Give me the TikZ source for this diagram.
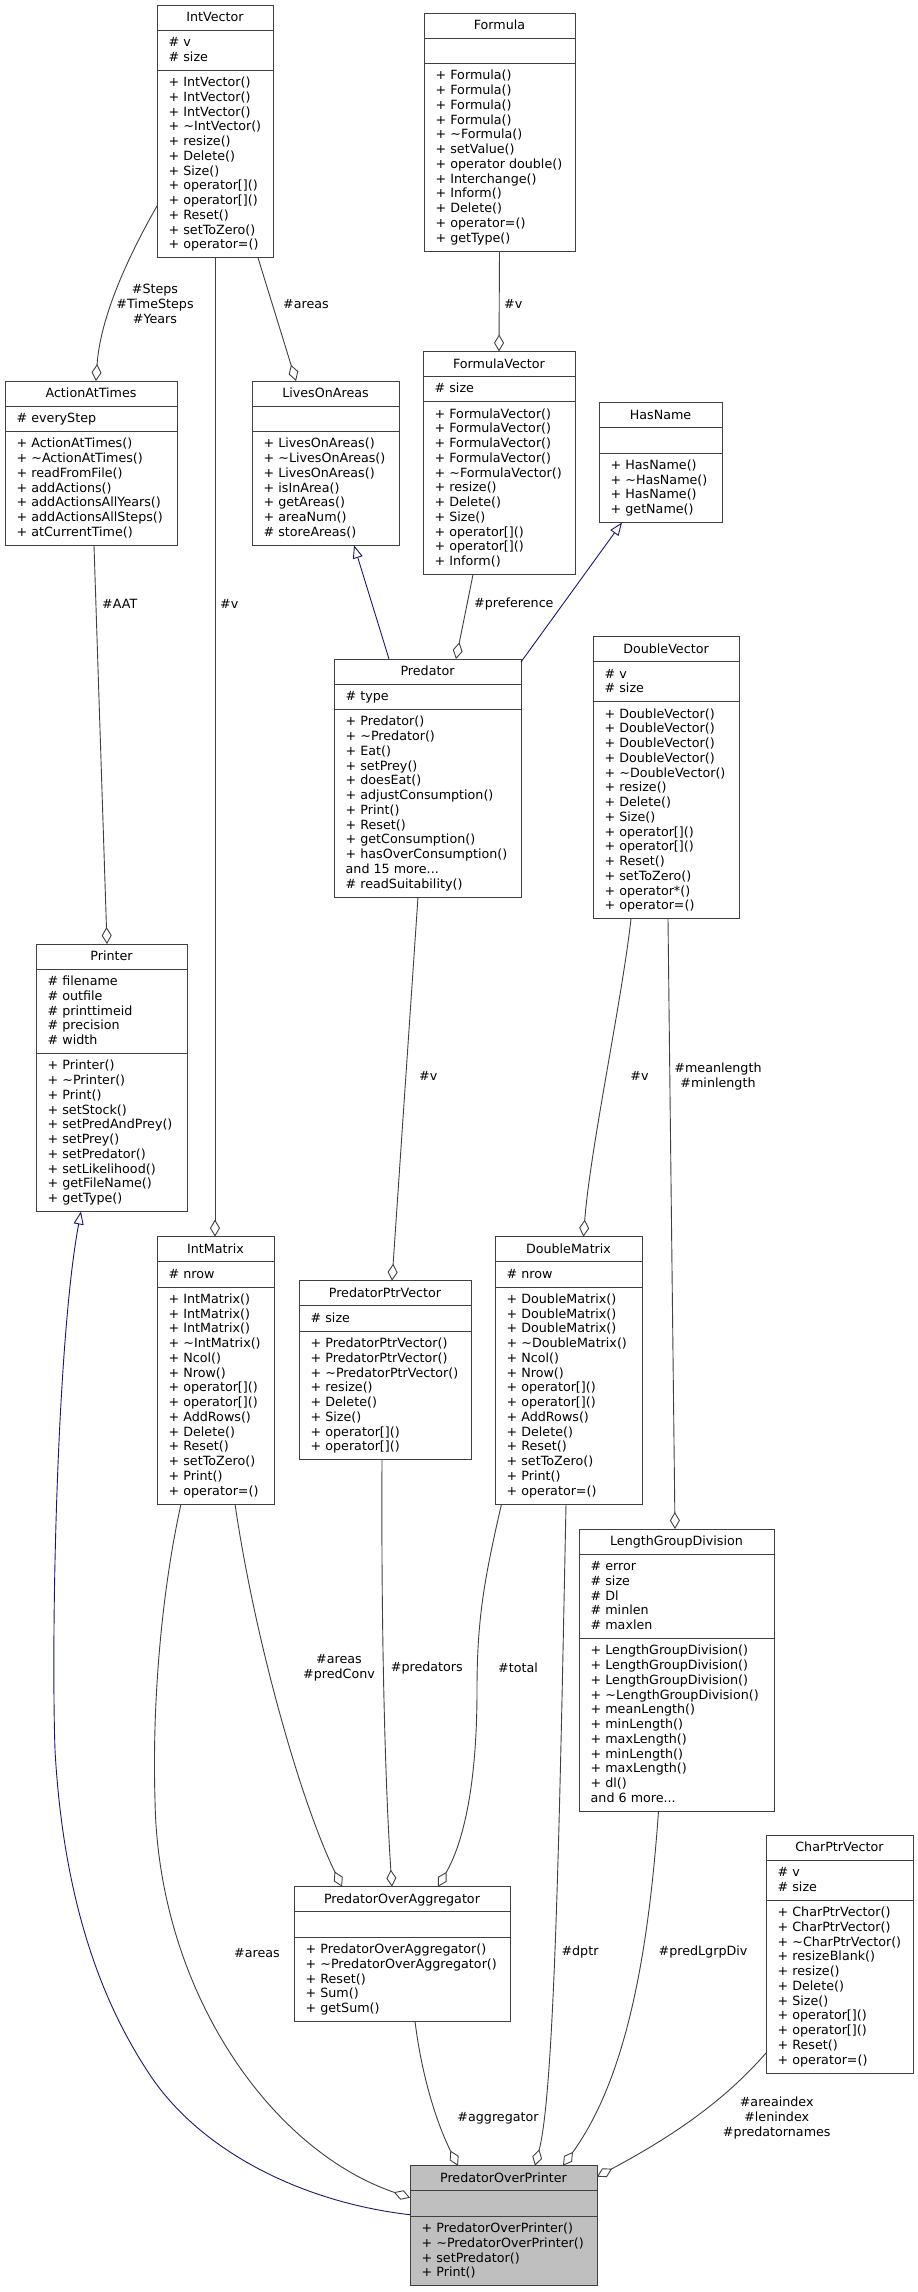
\documentclass[tikz,border=0pt]{standalone}
\usepackage{fontspec}
\setmainfont{DejaVu Sans}
\usetikzlibrary{arrows.meta}
\definecolor{edgegray}{HTML}{404040}
\definecolor{inhblue}{HTML}{191970}
\definecolor{popfill}{HTML}{BFBFBF}
\newcommand\tld{\textasciitilde}
\newcommand\mdots{...}
\tikzset{
  box/.style={draw=edgegray, line width=1pt, inner sep=0pt, outer sep=0pt, rectangle},
  sepline/.style={draw=edgegray, line width=1pt},
  txt/.style={inner sep=0pt, font=\fontsize{12.7pt}{14.75pt}\selectfont, text=black},
  lbl/.style={txt, align=center},
  agg/.style={draw=edgegray, line width=0.9pt, -{Diamond[open, length=17pt, width=10pt, line width=0.9pt]}},
  inh/.style={draw=inhblue, line width=0.9pt, -{Triangle[open, length=13pt, width=10pt, line width=0.9pt]}},
}
% name, x, top, width, nAttr, nMeth, fill, title
\newcommand\classbox[8]{%
  \pgfmathsetmacro\hA{(#5==0) ? 25.25 : (14.75*#5+10.5)}%
  \pgfmathsetmacro\hM{14.75*#6+10.5}%
  \pgfmathsetmacro\hT{25.25+\hA+\hM}%
  \node[box, fill=#7, minimum width=#4pt, minimum height=\hT pt, anchor=north west] (#1) at (#2pt,-#3pt) {};%
  \draw[sepline] ([yshift=-25.25pt]#1.north west) -- ([yshift=-25.25pt]#1.north east);%
  \draw[sepline] ([yshift=-25.25pt-\hA pt]#1.north west) -- ([yshift=-25.25pt-\hA pt]#1.north east);%
  \node[txt, anchor=base] (#1-t) at ([yshift=-16.8pt]#1.north) {#8};%
}
\newcommand\attrs[2]{\foreach \rowtext [count=\rowidx from 0] in {#2}{\node[txt, anchor=base west] (#1-a\rowidx) at ([xshift=11.5pt, yshift=-41.55pt-\rowidx*14.75pt]#1.north west) {\rowtext};}}
\newcommand\meths[2]{\foreach \rowtext [count=\rowidx from 0] in {#2}{\node[txt, anchor=base west] (#1-m\rowidx) at ([xshift=11.5pt, yshift=-41.55pt-\hA pt-\rowidx*14.75pt]#1.north west) {\rowtext};}}

\begin{document}
\begin{tikzpicture}
\fill[white] (0,0) rectangle (918pt,-2292pt);
\useasboundingbox (0,0) rectangle (918pt,-2292pt);

% ---- classes ----
\classbox{IntVector}{157}{5}{116}{2}{12}{white}{IntVector}
\attrs{IntVector}{\# v, \# size}
\meths{IntVector}{+ IntVector(), + IntVector(), + IntVector(), + \tld IntVector(), + resize(), + Delete(), + Size(), + operator[](), + operator[](), + Reset(), + setToZero(), + operator=()}

\classbox{Formula}{424}{13}{151}{0}{12}{white}{Formula}
\meths{Formula}{+ Formula(), + Formula(), + Formula(), + Formula(), + \tld Formula(), + setValue(), + operator double(), + Interchange(), + Inform(), + Delete(), + operator=(), + getType()}

\classbox{ActionAtTimes}{5}{381}{172}{1}{7}{white}{ActionAtTimes}
\attrs{ActionAtTimes}{\# everyStep}
\meths{ActionAtTimes}{+ ActionAtTimes(), + \tld ActionAtTimes(), + readFromFile(), + addActions(), + addActionsAllYears(), + addActionsAllSteps(), + atCurrentTime()}

\classbox{LivesOnAreas}{252}{381}{147}{0}{7}{white}{LivesOnAreas}
\meths{LivesOnAreas}{+ LivesOnAreas(), + \tld LivesOnAreas(), + LivesOnAreas(), + isInArea(), + getAreas(), + areaNum(), \# storeAreas()}

\classbox{FormulaVector}{423}{351.4}{152}{1}{11}{white}{FormulaVector}
\attrs{FormulaVector}{\# size}
\meths{FormulaVector}{+ FormulaVector(), + FormulaVector(), + FormulaVector(), + FormulaVector(), + \tld FormulaVector(), + resize(), + Delete(), + Size(), + operator[](), + operator[](), + Inform()}

\classbox{HasName}{599}{402.5}{123}{0}{4}{white}{HasName}
\meths{HasName}{+ HasName(), + \tld HasName(), + HasName(), + getName()}

\classbox{Predator}{334}{659}{187}{1}{12}{white}{Predator}
\attrs{Predator}{\# type}
\meths{Predator}{+ Predator(), + \tld Predator(), + Eat(), + setPrey(), + doesEat(), + adjustConsumption(), + Print(), + Reset(), + getConsumption(), + hasOverConsumption(), and 15 more\mdots, \# readSuitability()}

\classbox{DoubleVector}{593}{636.5}{146}{2}{14}{white}{DoubleVector}
\attrs{DoubleVector}{\# v, \# size}
\meths{DoubleVector}{+ DoubleVector(), + DoubleVector(), + DoubleVector(), + DoubleVector(), + \tld DoubleVector(), + resize(), + Delete(), + Size(), + operator[](), + operator[](), + Reset(), + setToZero(), + operator*(), + operator=()}

\classbox{Printer}{36}{944}{151}{5}{10}{white}{Printer}
\attrs{Printer}{\# filename, \# outfile, \# printtimeid, \# precision, \# width}
\meths{Printer}{+ Printer(), + \tld Printer(), + Print(), + setStock(), + setPredAndPrey(), + setPrey(), + setPredator(), + setLikelihood(), + getFileName(), + getType()}

\classbox{IntMatrix}{157}{1236.6}{117}{1}{14}{white}{IntMatrix}
\attrs{IntMatrix}{\# nrow}
\meths{IntMatrix}{+ IntMatrix(), + IntMatrix(), + IntMatrix(), + \tld IntMatrix(), + Ncol(), + Nrow(), + operator[](), + operator[](), + AddRows(), + Delete(), + Reset(), + setToZero(), + Print(), + operator=()}

\classbox{PredatorPtrVector}{299}{1280.7}{172}{1}{8}{white}{PredatorPtrVector}
\attrs{PredatorPtrVector}{\# size}
\meths{PredatorPtrVector}{+ PredatorPtrVector(), + PredatorPtrVector(), + \tld PredatorPtrVector(), + resize(), + Delete(), + Size(), + operator[](), + operator[]()}

\classbox{DoubleMatrix}{495}{1236.6}{147}{1}{14}{white}{DoubleMatrix}
\attrs{DoubleMatrix}{\# nrow}
\meths{DoubleMatrix}{+ DoubleMatrix(), + DoubleMatrix(), + DoubleMatrix(), + \tld DoubleMatrix(), + Ncol(), + Nrow(), + operator[](), + operator[](), + AddRows(), + Delete(), + Reset(), + setToZero(), + Print(), + operator=()}

\classbox{LengthGroupDivision}{579}{1529}{195}{5}{11}{white}{LengthGroupDivision}
\attrs{LengthGroupDivision}{\# error, \# size, \# Dl, \# minlen, \# maxlen}
\meths{LengthGroupDivision}{+ LengthGroupDivision(), + LengthGroupDivision(), + LengthGroupDivision(), + \tld LengthGroupDivision(), + meanLength(), + minLength(), + maxLength(), + minLength(), + maxLength(), + dl(), and 6 more\mdots}

\classbox{POA}{294}{1886.7}{216}{0}{5}{white}{PredatorOverAggregator}
\meths{POA}{+ PredatorOverAggregator(), + \tld PredatorOverAggregator(), + Reset(), + Sum(), + getSum()}

\classbox{CharPtrVector}{766}{1835}{147}{2}{11}{white}{CharPtrVector}
\attrs{CharPtrVector}{\# v, \# size}
\meths{CharPtrVector}{+ CharPtrVector(), + CharPtrVector(), + \tld CharPtrVector(), + resizeBlank(), + resize(), + Delete(), + Size(), + operator[](), + operator[](), + Reset(), + operator=()}

\classbox{POP}{410}{2165.7}{187}{0}{4}{popfill}{PredatorOverPrinter}
\meths{POP}{+ PredatorOverPrinter(), + \tld PredatorOverPrinter(), + setPredator(), + Print()}

% ---- connectors ----
\draw[agg] ([yshift=-201pt]IntVector.north west) .. controls (125pt,-262pt) and (100pt,-320pt) .. ([xshift=91pt]ActionAtTimes.north west);
\draw[agg] ([xshift=101pt]IntVector.south west) -- ([xshift=44pt]LivesOnAreas.north west);
\draw[agg] ([xshift=58pt]IntVector.south west) -- ([xshift=58pt]IntMatrix.north west);
\draw[agg] (Formula.south) -- (FormulaVector.north);
\draw[agg] ([xshift=89pt]ActionAtTimes.south west) -- ([xshift=71pt]Printer.north west);
\draw[agg] ([xshift=50pt]FormulaVector.south west) -- ([xshift=122pt]Predator.north west);
\draw[inh] ([xshift=55pt]Predator.north west) -- ([xshift=102pt]LivesOnAreas.south west);
\draw[inh] ([yshift=-3pt]Predator.north east) -- ([xshift=23pt]HasName.south west);
\draw[agg] ([xshift=84pt]Predator.south west) -- ([xshift=93pt]PredatorPtrVector.north west);
\draw[agg] ([xshift=38pt]DoubleVector.south west) .. controls (622pt,-1000pt) and (590pt,-1150pt) .. ([xshift=88.5pt]DoubleMatrix.north west);
\draw[agg] ([xshift=75pt]DoubleVector.south west) -- ([xshift=96pt]LengthGroupDivision.north west);
\draw[inh] ([yshift=-49pt]POP.north west) .. controls (300pt,-2202pt) and (200pt,-2150pt) .. (150pt,-2075pt) .. controls (117pt,-2025pt) and (65pt,-1930pt) .. (55pt,-1750pt) .. controls (51pt,-1630pt) and (57pt,-1340pt) .. ([xshift=45pt]Printer.south west);
\draw[agg] ([xshift=24pt]IntMatrix.south west) .. controls (162pt,-1590pt) and (152pt,-1700pt) .. (155pt,-1800pt) .. controls (158pt,-1990pt) and (270pt,-2150pt) .. ([yshift=-32pt]POP.north west);
\draw[agg] ([xshift=78pt]IntMatrix.south west) .. controls (255pt,-1640pt) and (300pt,-1800pt) .. ([xshift=48pt]POA.north west);
\draw[agg] ([xshift=83pt]PredatorPtrVector.south west) .. controls (381pt,-1650pt) and (386pt,-1800pt) .. ([xshift=98pt]POA.north west);
\draw[agg] ([xshift=6.5pt]DoubleMatrix.south west) .. controls (484pt,-1580pt) and (477pt,-1620pt) .. (477pt,-1690pt) .. controls (477pt,-1790pt) and (462pt,-1845pt) .. ([xshift=144pt]POA.north west);
\draw[agg] ([xshift=71pt]DoubleMatrix.south west) .. controls (560pt,-1800pt) and (555pt,-2090pt) .. ([xshift=125pt]POP.north west);
\draw[agg] ([xshift=79.5pt]LengthGroupDivision.south west) .. controls (648pt,-1960pt) and (625pt,-2080pt) .. ([xshift=153pt]POP.north west);
\draw[agg] ([xshift=121pt]POA.south west) .. controls (423pt,-2085pt) and (440pt,-2130pt) .. ([xshift=48pt]POP.north west);
\draw[agg] ([yshift=-218pt]CharPtrVector.north west) .. controls (725pt,-2100pt) and (675pt,-2135pt) .. ([yshift=-11pt]POP.north east);

% ---- labels ----
\node[lbl] (l1) at (155pt,-304pt) {\#Steps\\\#TimeSteps\\\#Years};
\node[lbl] (l2) at (306pt,-304pt) {\#areas};
\node[txt, anchor=west] (l3) at (220pt,-604pt) {\#v};
\node[txt, anchor=west] (l4) at (504pt,-304pt) {\#v};
\node[txt, anchor=west] (l5) at (102pt,-604pt) {\#AAT};
\node[txt, anchor=west] (l6) at (474pt,-604pt) {\#preference};
\node[txt, anchor=west] (l7) at (419pt,-1076pt) {\#v};
\node[lbl] (l8) at (639.5pt,-1076pt) {\#v};
\node[lbl] (l9) at (718pt,-1076.5pt) {\#meanlength\\\#minlength};
\node[lbl] (l10) at (339pt,-1668pt) {\#areas\\\#predConv};
\node[txt, anchor=west] (l11) at (390.7pt,-1668pt) {\#predators};
\node[lbl] (l12) at (518pt,-1668pt) {\#total};
\node[lbl] (l13) at (257pt,-1953pt) {\#areas};
\node[lbl] (l14) at (580pt,-1952pt) {\#dptr};
\node[lbl] (l15) at (703pt,-1952pt) {\#predLgrpDiv};
\node[lbl] (l16) at (498pt,-2118pt) {\#aggregator};
\node[lbl] (l17) at (776.7pt,-2118pt) {\#areaindex\\\#lenindex\\\#predatornames};
\end{tikzpicture}
\end{document}
